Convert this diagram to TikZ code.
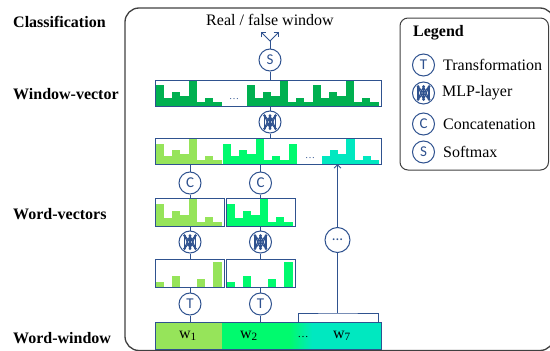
\documentclass[tikz,border=0pt]{standalone}
\usepackage{fontspec}
\setmainfont{Liberation Serif}
\newfontfamily\iconfont{Carlito}
\usetikzlibrary{arrows.meta}
\definecolor{lineblue}{RGB}{47,82,143}
\definecolor{darkgrn}{RGB}{0,176,80}
\definecolor{lightgrn}{RGB}{150,228,90}
\definecolor{brightgrn}{RGB}{0,250,110}
\definecolor{tealgrn}{RGB}{0,232,192}
\definecolor{framegray}{RGB}{64,64,64}

% bars of a vector: left x, bottom y, box height, colour, bar heights
\newcommand\histo[5]{\edef\histolist{#5}%
  \foreach \h [count=\i from 0] in \histolist
  \fill[#4] ({#1+\i*8.25},#2) rectangle ++(8.25,{-\h*#3});}
\newcommand\pat{0.8,0.3,0.55,0.4,1,0.16,0.32,0.16}

\begin{document}
\begin{tikzpicture}[x=1pt,y=-1pt,
  font=\fontsize{16}{19}\selectfont,
  op/.style={circle, draw=lineblue, line width=1pt, fill=white, minimum size=22pt, inner sep=0pt, text=lineblue, font=\iconfont\fontsize{15}{15}\selectfont},
  vec/.style={draw=lineblue, line width=0.9pt, anchor=north west, inner sep=0pt, outer sep=0pt},
  link/.style={draw=lineblue, line width=0.9pt},
  tip/.style={-{Straight Barb[length=3.5pt,width=7pt]}},
  lbl/.style={anchor=west, inner sep=0pt, font=\fontsize{16}{19}\selectfont\bfseries},
  item/.style={anchor=west, inner sep=0pt},
  mlp/.pic={
    \foreach \a in {-5.5,0,5.5} \foreach \b in {-5.5,0,5.5}
      \draw[lineblue, line width=1.2pt] (\a,-6.5) -- (\b,6.5);
    \foreach \a in {-5.5,0,5.5} {
      \fill[lineblue] (\a,-6.5) circle (1.5);
      \fill[lineblue] (\a,6.5) circle (1.5);}
  }]
\useasboundingbox (0,0) rectangle (550,351);

\draw[framegray, line width=1.3pt, rounded corners=14pt] (125,8) rectangle (554,350.5);

\node[lbl] (lClass) at (13,22) {Classification};
\node[lbl] (lWinvec) at (13,94) {Window-vector};
\node[lbl] (lWordvec) at (13,214) {Word-vectors};
\node[lbl] (lWordwin) at (13,338) {Word-window};

% window vector
\histo{155.7}{106}{26}{darkgrn}{\pat}
\histo{246.7}{106}{26}{darkgrn}{\pat,\pat}
\node[vec, minimum width=226pt, minimum height=26pt] (winvec) at (155,80) {};
\node[text=lineblue, font=\fontsize{10}{10}\selectfont] (gapA) at (234,99) {\dots};

% concatenated vector
\histo{155.7}{164}{25.5}{lightgrn}{\pat}
\histo{222.7}{164}{25.5}{brightgrn}{\pat,0.8}
\histo{321.7}{164}{25.5}{tealgrn}{0.3,0.55,0.4,1,0.16,0.32,0.16}
\node[vec, minimum width=226pt, minimum height=25.5pt] (catvec) at (155,138.5) {};
\node[text=lineblue, font=\fontsize{10}{10}\selectfont] (gapB) at (310,158) {\dots};

% word vectors
\histo{155.7}{226}{27.5}{lightgrn}{\pat}
\histo{226.7}{226}{27.5}{brightgrn}{\pat}
\node[vec, minimum width=69pt, minimum height=27.5pt] (wvec1) at (155,198.5) {};
\node[vec, minimum width=69pt, minimum height=27.5pt] (wvec2) at (226,198.5) {};

\histo{155.7}{287}{27.5}{lightgrn}{0.18,0,0.39,0,0,0.28,0,0.91}
\histo{226.7}{287}{27.5}{brightgrn}{0.18,0,0.39,0,0,0.28,0,0.91}
\node[vec, minimum width=69pt, minimum height=27.5pt] (tvec1) at (155,259.5) {};
\node[vec, minimum width=69pt, minimum height=27.5pt] (tvec2) at (226,259.5) {};

% word window
\fill[lightgrn] (155,322) rectangle (222,349);
\fill[brightgrn] (222,322) rectangle (290,349);
\shade[left color=brightgrn, right color=tealgrn] (290,322) rectangle (312,349);
\fill[tealgrn] (312,322) rectangle (381,349);
\node[vec, minimum width=226pt, minimum height=27pt] (wordwin) at (155,322) {};
\node (w1) at (188,336) {w\textsubscript{1}};
\node (w2) at (249,336) {w\textsubscript{2}};
\node[font=\fontsize{11}{11}\selectfont] (wdots) at (303,337) {\dots};
\node (w7) at (342,336) {w\textsubscript{7}};

% operations
\node (out) at (270,20) {Real / false window};
\node[op] (soft) at (270,60) {S};
\node[op] (mlpTop) at (270,122) {};
\pic at (mlpTop) {mlp};
\node[op] (cat1) at (190,183) {C};
\node[op] (cat2) at (260.5,183) {C};
\node[op] (mlp1) at (190,242) {};
\pic at (mlp1) {mlp};
\node[op] (mlp2) at (260.5,242) {};
\pic at (mlp2) {mlp};
\node[op] (tr1) at (190,304) {T};
\node[op] (tr2) at (260.5,304) {T};
\node[op, minimum size=25pt] (dots) at (337.5,240) {...};

\coordinate (fork) at (270,41);
\coordinate (outL) at (261,32);
\coordinate (outR) at (279,32);
\draw[link] (soft) -- (fork);
\draw[link, tip] (fork) -- (outL);
\draw[link, tip] (fork) -- (outR);

\draw[link] (soft) -- (soft |- winvec.north);
\draw[link] (mlpTop) -- (mlpTop |- winvec.south);
\draw[link] (mlpTop) -- (mlpTop |- catvec.north);
\draw[link] (cat1) -- (cat1 |- catvec.south);
\draw[link] (cat1) -- (cat1 |- wvec1.north);
\draw[link] (cat2) -- (cat2 |- catvec.south);
\draw[link] (cat2) -- (cat2 |- wvec2.north);
\draw[link] (mlp1) -- (mlp1 |- wvec1.south);
\draw[link] (mlp1) -- (mlp1 |- tvec1.north);
\draw[link] (mlp2) -- (mlp2 |- wvec2.south);
\draw[link] (mlp2) -- (mlp2 |- tvec2.north);
\draw[link] (tr1) -- (tr1 |- tvec1.south);
\draw[link] (tr1) -- (tr1 |- wordwin.north);
\draw[link] (tr2) -- (tr2 |- tvec2.south);
\draw[link] (tr2) -- (tr2 |- wordwin.north);

\coordinate (braceL) at (298,321.5);
\coordinate (braceR) at (378,321.5);
\coordinate (braceM) at (337.5,313);
\draw[link] (braceL) |- (braceM) -| (braceR);
\draw[link] (dots) -- (braceM);
\draw[link, tip] (dots) -- (dots |- catvec.south);

% legend
\draw[framegray, line width=1pt, rounded corners=8pt] (400,18) rectangle (548.5,170);
\node[lbl] (lgTitle) at (413,33) {Legend};
\node[op] (lgT) at (423.5,65) {T};
\node[item] (lgTtext) at (443,65) {Transformation};
\node[op] (lgM) at (423.5,93) {};
\pic at (lgM) {mlp};
\node[item] (lgMtext) at (442,93) {MLP-layer};
\node[op] (lgC) at (423.5,124) {C};
\node[item] (lgCtext) at (443,124) {Concatenation};
\node[op] (lgS) at (423.5,152) {S};
\node[item] (lgStext) at (443,152) {Softmax};
\end{tikzpicture}
\end{document}
